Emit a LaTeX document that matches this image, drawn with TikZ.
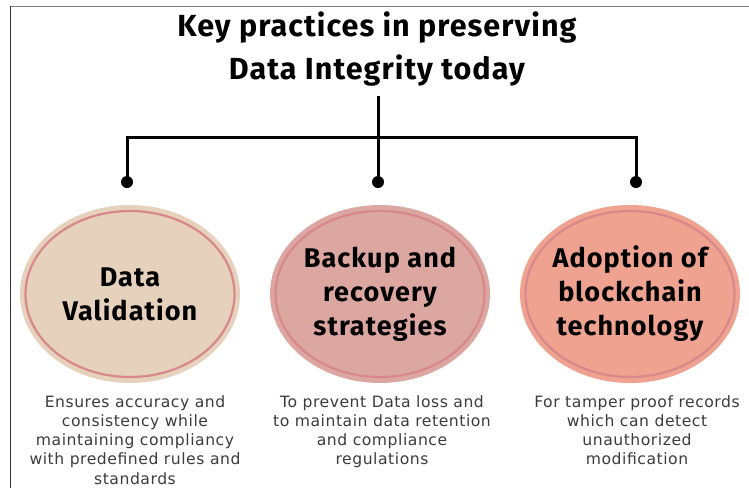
\documentclass[tikz,border=0pt]{standalone}
\usepackage{fontspec}
\setmainfont{Fira Sans}
\newfontfamily\headfont{Fira Sans}[LetterSpace=3.5]
\newfontfamily\bubblefont{Fira Sans}[LetterSpace=4]
\newfontfamily\descfont{DejaVu Sans}[LetterSpace=3.5]
\usetikzlibrary{shapes.geometric}

\definecolor{framegray}{HTML}{7F7F7F}
\definecolor{frameedge}{HTML}{333333}
\definecolor{fillbeige}{HTML}{E6D2BC}
\definecolor{fillrose}{HTML}{DCA6A1}
\definecolor{fillsalmon}{HTML}{EEA28F}
\definecolor{rimrose}{HTML}{D8878B}
\definecolor{desctext}{HTML}{3C3C3C}

\tikzset{
  wire/.style={line width=3pt, black},
  knob/.style={circle, fill=black, inner sep=0pt, minimum size=12pt},
  bubble/.style={ellipse, inner sep=0pt, minimum width=220pt, minimum height=178pt,
    font=\bubblefont\fontsize{27}{34}\selectfont\bfseries, align=center, text=black},
  rim/.style={draw=rimrose, line width=2.2pt},
  desc/.style={anchor=north, inner sep=0pt, align=center, text=desctext,
    font=\descfont\fontsize{15.6}{19.3}\selectfont},
}

\begin{document}
\begin{tikzpicture}[x=1pt, y=-1pt]
  \useasboundingbox (0,0) rectangle (749,488);
  \fill[white] (0,0) rectangle (749,488);

  % partial frame: top and left edges
  \draw[framegray, line width=1.4pt] (10,6.5) -- (749,6.5);
  \draw[frameedge, line width=1.4pt] (10.5,6) -- (10.5,488);

  % heading
  \node[align=center, inner sep=0pt, font=\headfont\fontsize{30.5}{43}\selectfont\bfseries] (title) at (377,49)
    {Key practices in preserving\\Data Integrity today};

  % tree connector
  \coordinate (stem) at (378,96);
  \coordinate (hub) at (378,137);
  \node[knob] (kA) at (127,182) {};
  \node[knob] (kB) at (378,182) {};
  \node[knob] (kC) at (636,182) {};
  \draw[wire] (stem) -- (kB.center);
  \draw[wire] (kA.center) |- (hub) -| (kC.center);

  % the three practices
  \node[bubble, fill=fillbeige] (pA) at (130,294) {Data\\Validation};
  \node[bubble, fill=fillrose] (pB) at (380,294) {Backup and\\recovery\\strategies};
  \node[bubble, fill=fillsalmon] (pC) at (630,294) {Adoption of\\blockchain\\technology};
  \foreach \p in {pA,pB,pC}
    \draw[rim] (\p.center) ellipse [x radius=104.5pt, y radius=83pt];

  % explanations
  \node[desc] (dA) at (135,395) {Ensures accuracy and\\consistency while\\maintaining compliancy\\with predefined rules and\\standards};
  \node[desc] (dB) at (382,395) {To prevent Data loss and\\to maintain data retention\\and compliance\\regulations};
  \node[desc] (dC) at (637,395) {For tamper proof records\\which can detect\\unauthorized\\modification};
\end{tikzpicture}
\end{document}
